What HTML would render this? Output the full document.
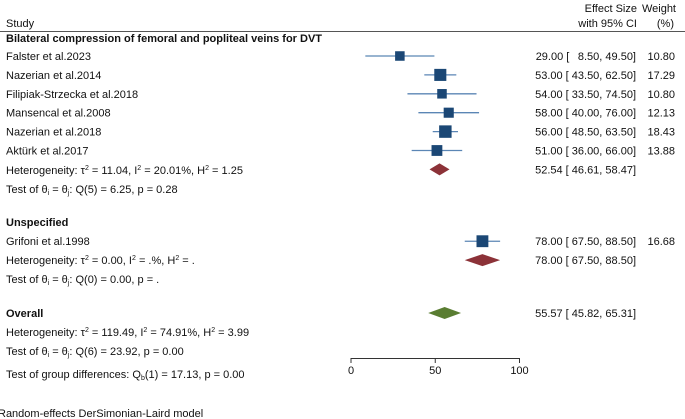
<!DOCTYPE html>
<html><head><meta charset="utf-8">
<style>
html,body{margin:0;padding:0;background:#fff;}
svg{display:block;font-family:"Liberation Sans",Arial,sans-serif;font-size:11px;fill:#111;}
.b{font-weight:bold;}
</style></head>
<body>
<svg id="chart" width="685" height="419" viewBox="0 0 685 419">
<g id="fixed">
<text x="637" y="12" text-anchor="end">Effect Size</text>
<text x="637" y="27" text-anchor="end">with 95% CI</text>
<text x="676" y="12" text-anchor="end">Weight</text>
<text x="674" y="27" text-anchor="end">(%)</text>
<text x="6" y="27">Study</text>
<line x1="0" y1="31.5" x2="685" y2="31.5" stroke="#555" stroke-width="1"/>
<text x="6" y="42" class="b">Bilateral compression of femoral and popliteal veins for DVT</text>
<text x="6" y="174">Heterogeneity: τ<tspan dy="-4" font-size="7">2</tspan><tspan dy="4"> = 11.04, I</tspan><tspan dy="-4" font-size="7">2</tspan><tspan dy="4"> = 20.01%, H</tspan><tspan dy="-4" font-size="7">2</tspan><tspan dy="4"> = 1.25</tspan></text>
<text x="6" y="193">Test of θ<tspan dy="2" font-size="7">i</tspan><tspan dy="-2"> = θ</tspan><tspan dy="2" font-size="7">j</tspan><tspan dy="-2">: Q(5) = 6.25, p = 0.28</tspan></text>
<text x="6" y="226" class="b">Unspecified</text>
<text x="6" y="264">Heterogeneity: τ<tspan dy="-4" font-size="7">2</tspan><tspan dy="4"> = 0.00, I</tspan><tspan dy="-4" font-size="7">2</tspan><tspan dy="4"> = .%, H</tspan><tspan dy="-4" font-size="7">2</tspan><tspan dy="4"> = .</tspan></text>
<text x="6" y="283">Test of θ<tspan dy="2" font-size="7">i</tspan><tspan dy="-2"> = θ</tspan><tspan dy="2" font-size="7">j</tspan><tspan dy="-2">: Q(0) = 0.00, p = .</tspan></text>
<text x="6" y="317" class="b">Overall</text>
<text x="6" y="336">Heterogeneity: τ<tspan dy="-4" font-size="7">2</tspan><tspan dy="4"> = 119.49, I</tspan><tspan dy="-4" font-size="7">2</tspan><tspan dy="4"> = 74.91%, H</tspan><tspan dy="-4" font-size="7">2</tspan><tspan dy="4"> = 3.99</tspan></text>
<text x="6" y="355">Test of θ<tspan dy="2" font-size="7">i</tspan><tspan dy="-2"> = θ</tspan><tspan dy="2" font-size="7">j</tspan><tspan dy="-2">: Q(6) = 23.92, p = 0.00</tspan></text>
<text x="6" y="378">Test of group differences: Q<tspan dy="2" font-size="7">b</tspan><tspan dy="-2">(1) = 17.13, p = 0.00</tspan></text>
<text x="-2" y="417">Random-effects DerSimonian-Laird model</text>
</g>
<g id="marks"></g>
</svg>
<script>
const studies = ["Falster et al.2023","Nazerian et al.2014","Filipiak-Strzecka et al.2018","Mansencal et al.2008","Nazerian et al.2018","Aktürk et al.2017","Grifoni et al.1998"];
const effects = [29.00,53.00,54.00,58.00,56.00,51.00,78.00];
const lows = [8.50,43.50,33.50,40.00,48.50,36.00,67.50];
const highs = [49.50,62.50,74.50,76.00,63.50,66.00,88.50];
const weights = [10.80,17.29,10.80,12.13,18.43,13.88,16.68];
const studyRows = [0,1,2,3,4,5,9.8];
const pooledLabels = ["group1","group2","overall"];
const pooledEst = [52.54,78.00,55.57];
const pooledLow = [46.61,67.50,45.82];
const pooledHigh = [58.47,88.50,65.31];
const pooledRows = [6,10.8,13.6];
const xTicks = [0,50,100];

const NS="http://www.w3.org/2000/svg";
const g=document.getElementById('marks');
const xs=v=>351+v*1.685;
const ys=r=>56+r*18.9;
const fmt=v=>v.toFixed(2);
const pad=v=>(v<10?'\u2002':'')+fmt(v);
function mk(t,a){const e=document.createElementNS(NS,t);for(const k in a)e.setAttribute(k,a[k]);g.appendChild(e);return e;}
function ciText(e,l,h){return fmt(e)+' [ '+pad(l)+',  '+fmt(h)+']';}

studies.forEach((s,i)=>{
  const y=ys(studyRows[i]);
  const lab=mk('text',{x:6,y:y+4});lab.textContent=s;
  
  
  const ln=mk('line',{x1:xs(lows[i]),x2:xs(highs[i]),y1:y,y2:y,stroke:'#5b86b5','stroke-width':1.3});
  
  
  const sz=Math.sqrt(weights[i])*2.9;
  const sq=mk('rect',{x:xs(effects[i])-sz/2,y:y-sz/2,width:sz,height:sz,fill:'#1b4775'});
  
  
  const t=mk('text',{x:636,y:y+4,'text-anchor':'end'});t.textContent=ciText(effects[i],lows[i],highs[i]);
  
  
  const w=mk('text',{x:675,y:y+4,'text-anchor':'end'});w.textContent=fmt(weights[i]);
  
  
});

pooledEst.forEach((v,i)=>{
  const y=ys(pooledRows[i]);
  const col=i===2?'#5a7d32':'#8c3238';
  const pts=[[xs(pooledLow[i]),y],[xs(v),y-6],[xs(pooledHigh[i]),y],[xs(v),y+6]].map(p=>p.join(',')).join(' ');
  const d=mk('polygon',{points:pts,fill:col});
  
  
  const t=mk('text',{x:636,y:y+4,'text-anchor':'end'});t.textContent=ciText(v,pooledLow[i],pooledHigh[i]);
  
  
});

const ax=mk('line',{x1:xs(xTicks[0]),x2:xs(xTicks[xTicks.length-1]),y1:358.5,y2:358.5,stroke:'#333','stroke-width':1});


xTicks.forEach(v=>{
  const tk=mk('line',{x1:xs(v),x2:xs(v),y1:358,y2:363,stroke:'#333','stroke-width':1});
  
  
  const tl=mk('text',{x:xs(v),y:374,'text-anchor':'middle'});tl.textContent=v;
  
  
});
</script>
</body></html>
